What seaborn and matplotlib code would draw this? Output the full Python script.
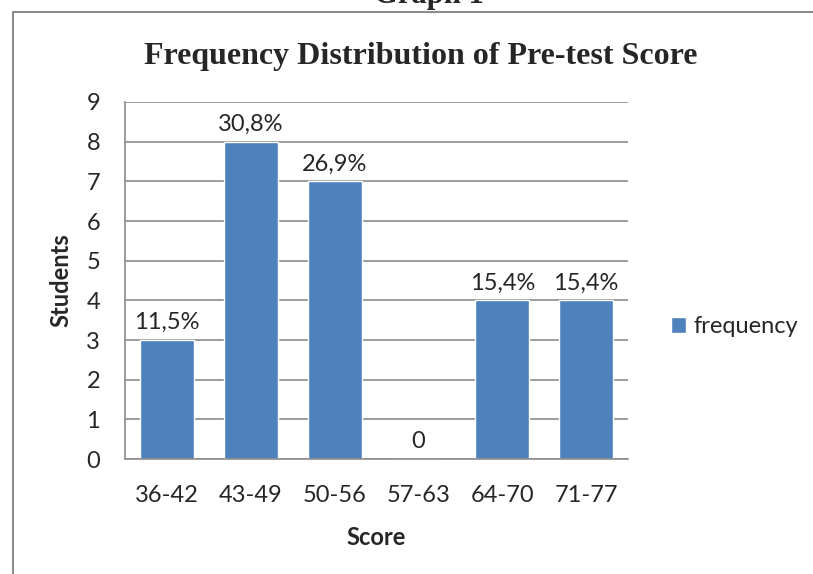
import matplotlib
matplotlib.use("Agg")
import matplotlib.pyplot as plt
import seaborn as sns
import pandas as pd
from matplotlib.lines import Line2D

# data
score_ranges = ["36-42", "43-49", "50-56", "57-63", "64-70", "71-77"]
frequency = [3, 8, 7, 0, 4, 4]
bar_text = ["11,5%", "30,8%", "26,9%", "0", "15,4%", "15,4%"]
y_ticks = list(range(0, 10))

df = pd.DataFrame({"Score": score_ranges, "frequency": frequency})

sns.set_style("white")
plt.rcParams["font.family"] = ["Lato", "DejaVu Sans"]

fig = plt.figure(figsize=(8.13, 5.74), dpi=100)
ax = fig.add_axes([0.1538, 0.2003, 0.6187, 0.622])

sns.barplot(data=df, x="Score", y="frequency", color="#4F81BD", width=0.645,
            saturation=1, ax=ax, label="frequency")

ax.set_ylim(0, 9)
ax.set_yticks(y_ticks)
ax.yaxis.grid(True, color="#8C8C8C", linewidth=1.2)
ax.set_axisbelow(True)
for side in ["top", "right"]:
    ax.spines[side].set_visible(False)
for side in ["left", "bottom"]:
    ax.spines[side].set_color("#8C8C8C")
    ax.spines[side].set_linewidth(1.2)
ax.tick_params(axis="y", length=0, pad=18, labelsize=17)
ax.tick_params(axis="x", length=0, pad=19, labelsize=17)

ax.bar_label(ax.containers[0], labels=bar_text, padding=5, fontsize=17)

ax.set_xlabel("Score", fontsize=17, fontweight="bold", labelpad=14)
ax.set_ylabel("Students", fontsize=17, fontweight="bold", labelpad=10)

ax.legend(loc="center left", bbox_to_anchor=(1.0855, 0.37), frameon=False,
          fontsize=17, borderpad=0, borderaxespad=0, handlelength=0.63,
          handleheight=0.63, handletextpad=0.3)

fig.text(0.518, 0.889, "Frequency Distribution of Pre-test Score",
         ha="center", va="baseline", fontsize=23, fontweight="bold",
         family="Liberation Serif")
fig.text(0.528, 0.994, "Graph 1", ha="center", va="baseline", fontsize=22,
         fontweight="bold", family="Liberation Serif")

# frame lines of the page
fig.add_artist(Line2D([0.0154, 1.0], [0.979, 0.979], color="#8C8C8C", lw=1.5,
                      transform=fig.transFigure))
fig.add_artist(Line2D([0.0154, 0.0154], [0.0, 0.979], color="#8C8C8C", lw=1.5,
                      transform=fig.transFigure))

fig.savefig("out.png", dpi=100)
